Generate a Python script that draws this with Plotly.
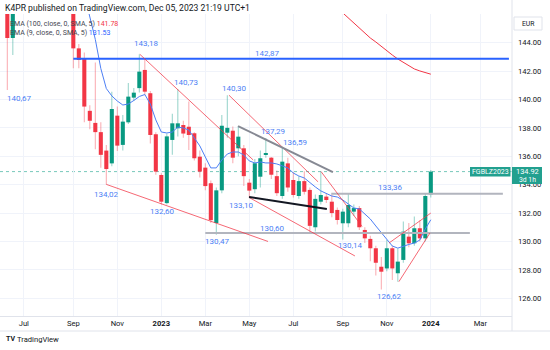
import plotly.graph_objects as go

# ---------------- data (weekly bars, FGBLZ2023) ----------------
opens = [146.6, 144.33, 146.4, 148.2, 149.7, 150.4, 149.6, 148.3, 147.4, 148.5, 148.0, 147.1,
         146.4, 143.6, 142.9, 139.2, 138.35, 137.7, 136.4, 135.5, 138.86, 136.8, 138.39, 140.13,
         140.8, 142.08, 140.44, 137.55, 134.68, 132.7, 137.15, 137.97, 138.2, 138.08, 137.62, 135.97,
         135.2, 134.1, 131.3, 133.6, 137.66, 137.8, 136.56, 136.56, 134.14, 133.68, 134.56, 136.09,
         135.9, 134.6, 133.2, 135.5, 134.33, 133.2, 134.25, 133.63, 131.0, 132.8, 133.16, 132.8,
         132.22, 131.28, 131.28, 132.1, 132.35, 130.81, 130.18, 129.52, 128.22, 128.1, 129.52, 127.76,
         128.7, 130.34, 129.87, 130.93, 130.22, 133.32]
highs = [147.0, 146.9, 148.6, 150.1, 151.0, 151.3, 150.2, 149.0, 148.9, 149.4, 148.6, 147.8,
         146.7, 143.9, 143.3, 139.6, 142.6, 138.4, 136.8, 140.55, 139.5, 138.9, 141.16, 140.8,
         143.18, 142.9, 140.6, 137.7, 134.8, 137.6, 139.0, 140.73, 138.5, 139.85, 137.7, 136.4,
         135.5, 134.3, 133.8, 138.9, 140.3, 138.1, 138.13, 136.8, 134.4, 135.8, 136.4, 137.29,
         135.95, 135.0, 136.59, 135.9, 134.9, 134.6, 134.95, 133.8, 133.3, 134.92, 133.4, 133.3,
         132.4, 132.3, 133.42, 132.6, 132.5, 131.0, 130.4, 129.7, 128.9, 130.1, 129.7, 129.5,
         131.4, 131.3, 131.75, 131.5, 133.4, 135.04]
lows = [140.67, 143.13, 146.2, 147.6, 148.9, 149.2, 147.9, 146.9, 146.6, 147.7, 146.7, 146.3,
        142.2, 142.2, 138.4, 137.9, 136.5, 135.2, 134.02, 135.3, 136.37, 136.4, 138.27, 139.9,
        140.5, 140.3, 136.9, 134.7, 132.6, 132.6, 136.1, 137.4, 137.3, 136.44, 135.7, 134.5,
        133.6, 131.3, 130.47, 133.4, 137.3, 135.5, 136.0, 133.9, 133.10, 133.4, 133.8, 135.9,
        134.4, 133.2, 133.0, 133.5, 133.1, 133.0, 133.3, 130.6, 130.7, 132.6, 132.7, 131.7,
        131.2, 130.14, 131.0, 131.8, 130.8, 129.9, 128.6, 127.6, 126.62, 127.9, 127.29, 127.17,
        128.5, 129.6, 129.7, 130.0, 130.0, 133.1]
closes = [144.33, 146.4, 148.2, 149.7, 150.4, 149.6, 148.3, 147.4, 148.5, 148.0, 147.1, 146.6,
          143.6, 142.78, 139.5, 138.5, 137.7, 136.1, 135.1, 139.33, 136.75, 138.44, 140.2, 140.48,
          141.96, 140.55, 137.5, 134.92, 132.8, 137.4, 138.32, 138.32, 137.6, 137.5, 135.86, 134.92,
          133.9, 131.5, 133.6, 138.15, 138.0, 135.9, 137.38, 134.6, 133.58, 135.51, 135.86, 136.21,
          134.7, 133.4, 135.62, 133.8, 133.27, 134.25, 133.5, 131.1, 133.0, 133.27, 132.92, 132.0,
          131.51, 132.1, 132.57, 132.35, 131.0, 130.22, 129.52, 128.5, 127.87, 129.52, 128.1, 128.58,
          130.69, 129.87, 130.93, 130.22, 133.2, 134.92]

ema9 = [None] * 12 + [
    149.5, 148.6, 147.4, 145.81, 144.23, 142.18, 140.77, 140.25, 139.89, 139.61, 139.68, 139.93,
    140.21, 140.35, 139.68, 138.56, 137.71, 137.64, 137.71, 138.06, 137.99, 137.85, 137.29, 136.73,
    135.95, 135.18, 135.18, 135.74, 136.16, 136.30, 136.30, 136.09, 135.67, 135.53, 135.60, 135.53,
    135.53, 135.46, 135.32, 135.18, 134.82, 134.61, 134.47, 134.12, 133.84, 133.56, 133.35, 133.20,
    133.13, 132.92, 132.64, 132.36, 132.29, 131.94, 131.58, 131.09, 130.60, 130.11, 129.68, 129.53,
    129.68, 129.79, 129.89, 130.10, 130.88, 131.53]
ema100 = [None] * 60 + [
    146.45, 146.09, 145.74, 145.39, 145.04, 144.68, 144.33, 144.05, 143.73, 143.42, 143.13, 142.85,
    142.61, 142.36, 142.15, 142.01, 141.87, 141.78]

tick_labels = ["Jul", "Sep", "Nov", "<b>2023</b>", "Mar", "May", "Jul", "Sep", "Nov", "<b>2024</b>", "Mar"]
tick_bars = [3, 12, 20, 28, 36, 44, 52, 61, 69, 77, 86]
price_ticks = [126, 128, 130, 132, 134, 136, 138, 140, 142, 144]

last_price = 134.92
ema100_last = 141.78
ema9_last = 131.53

# horizontal levels: (price, first bar, last bar, colour)
levels = [(142.87, 12, 91.2, "#2962ff"), (133.36, 58.9, 90.1, "#b2b5be"), (130.60, 36, 84.1, "#b2b5be")]
# trend lines: (bar0, price0, bar1, price1)
red_lines = [(24.1, 143.18, 44.7, 135.74), (40.3, 140.30, 56.5, 134.2), (18.0, 134.02, 47.4, 130.0),
             (43.95, 133.10, 63.2, 128.98), (57.05, 134.92, 64.5, 131.06),
             (69.4, 129.89, 77.0, 132.0), (71.2, 127.17, 76.85, 130.6)]
gray_line = (41.95, 138.13, 59.2, 134.89)
black_line = (43.95, 133.13, 58.1, 132.28)

# price labels: (text, bar, price, xshift, yshift)
price_labels = [("140,67", 0, 140.67, 12, -9), ("143,18", 24, 143.18, 7, 11), ("134,02", 18, 134.02, 0, -10),
                ("140,73", 31, 140.73, 8, 7), ("132,60", 28, 132.60, 1, -7), ("140,30", 40, 140.30, 7, 7),
                ("137,29", 47, 137.29, 7, 6), ("136,59", 50, 136.59, 13, 5), ("133,10", 44, 133.10, -8, -8),
                ("130,47", 38, 130.47, 1, -7), ("130,60", 48.3, 130.60, 0, 4), ("142,87", 47.3, 142.87, 0, 5.5),
                ("133,36", 69.6, 133.36, 0, 6.5), ("130,14", 61, 130.14, 8, -6), ("126,62", 68, 126.62, 8, -7)]

# ---------------- figure ----------------
UP, DN = "#089981", "#f23645"
UPW, DNW = "rgba(8,153,129,0.40)", "rgba(242,54,69,0.40)"
FONT = "Roboto"
idx = list(range(len(closes)))
rising = [c >= o for o, c in zip(opens, closes)]

fig = go.Figure()
# wicks
fig.add_trace(go.Bar(
    x=idx, base=lows, y=[h - l for h, l in zip(highs, lows)], width=0.2,
    marker=dict(color=[UPW if r else DNW for r in rising], line=dict(width=0)),
    hoverinfo="skip", showlegend=False))
# bodies
body_lo = [min(o, c) for o, c in zip(opens, closes)]
body_h = [max(abs(c - o), 0.07) for o, c in zip(opens, closes)]
fig.add_trace(go.Bar(
    x=idx, base=body_lo, y=body_h, width=0.74,
    marker=dict(color=[UP if r else DN for r in rising], line=dict(width=0)),
    hoverinfo="skip", showlegend=False))
fig.add_trace(go.Scatter(x=idx, y=ema9, mode="lines", line=dict(color="#4d7ff5", width=1),
                         hoverinfo="skip", showlegend=False))
fig.add_trace(go.Scatter(x=idx, y=ema100, mode="lines", line=dict(color="#f23645", width=1),
                         hoverinfo="skip", showlegend=False))

shapes = []
shapes.append(dict(type="line", xref="paper", yref="y", x0=0, x1=1, y0=last_price, y1=last_price,
                   line=dict(color="rgba(8,153,129,0.55)", width=1, dash="dot"), layer="below"))
for p, b0, b1, col in levels:
    shapes.append(dict(type="line", xref="x", yref="y", x0=b0, x1=b1, y0=p, y1=p,
                       line=dict(color=col, width=2)))
for b0, p0, b1, p1 in red_lines:
    shapes.append(dict(type="line", xref="x", yref="y", x0=b0, x1=b1, y0=p0, y1=p1,
                       line=dict(color="rgba(242,54,69,0.75)", width=1)))
shapes.append(dict(type="line", xref="x", yref="y", x0=gray_line[0], y0=gray_line[1], x1=gray_line[2],
                   y1=gray_line[3], line=dict(color="#868993", width=2)))
shapes.append(dict(type="line", xref="x", yref="y", x0=black_line[0], y0=black_line[1], x1=black_line[2],
                   y1=black_line[3], line=dict(color="#131722", width=2)))

W_PLOT, TOP, BOTTOM = 512, 14, 316
def px(x):
    return x / W_PLOT
def py(y):
    return (BOTTOM - y) / (BOTTOM - TOP)

shapes.append(dict(type="line", xref="paper", yref="paper", x0=0, x1=px(550), y0=py(331), y1=py(331),
                   line=dict(color="#e0e3eb", width=1)))
shapes.append(dict(type="line", xref="paper", yref="paper", x0=1, x1=1, y0=py(331), y1=py(0),
                   line=dict(color="#e0e3eb", width=1)))
shapes.append(dict(type="rect", xref="paper", yref="paper", x0=px(514), x1=px(542), y0=py(30), y1=py(17),
                   line=dict(color="#e0e3eb", width=1), fillcolor="white"))
shapes.append(dict(type="rect", xref="paper", yref="paper", x0=px(470), x1=px(510.5), y0=py(176.5), y1=py(167),
                   line=dict(width=0), fillcolor="#22a08f"))
shapes.append(dict(type="rect", xref="paper", yref="paper", x0=px(512), x1=px(542), y0=py(184), y1=py(167),
                   line=dict(width=0), fillcolor="#22a08f"))

ann = []
for t, b, p, xs, ys in price_labels:
    ann.append(dict(x=b, y=p, xref="x", yref="y", text=t, showarrow=False, xshift=xs, yshift=ys,
                    font=dict(family=FONT, size=8, color="#4d7ff5")))

def txt(x, y, s, size=7.8, color="#131722", anchor="left"):
    ann.append(dict(x=px(x), y=py(y), xref="paper", yref="paper", text=s, showarrow=False,
                    xanchor=anchor, yanchor="middle", font=dict(family=FONT, size=size, color=color)))

txt(3, 8, "K4PR published on TradingView.com, Dec 05, 2023 21:19 UTC+1", 8.6)
txt(8, 24, "EMA (100, close, 0, SMA, 5) <span style='color:#f23645'>%.2f</span>" % ema100_last, 7.0, "#434651")
txt(8, 33, "EMA (9, close, 0, SMA, 5) <span style='color:#2962ff'>%.2f</span>" % ema9_last, 7.0, "#434651")
txt(528, 23.5, "EUR", 6.8, "#131722", "center")
txt(490.5, 172, "FGBLZ2023", 7, "white", "center")
txt(527, 171.5, f"{last_price:.2f}", 7.4, "white", "center")
txt(527, 179.5, "3d 1h", 6.8, "white", "center")
txt(4, 339, "<b>TV</b>", 7, "#131722")
txt(15, 339, "TradingView", 7.6, "#131722")

fig.update_layout(
    width=550, height=350, margin=dict(l=0, r=38, t=TOP, b=350 - BOTTOM),
    paper_bgcolor="white", plot_bgcolor="white", showlegend=False, barmode="overlay",
    font=dict(family=FONT, size=8, color="#131722"),
    shapes=shapes, annotations=ann,
    xaxis=dict(range=[-1.33, 91.76], tickvals=tick_bars, ticktext=tick_labels, showgrid=True,
               gridcolor="#f0f3fa", gridwidth=1, zeroline=False, showline=True, linecolor="#e0e3eb",
               ticks="", tickfont=dict(family=FONT, size=7.6, color="#131722"), fixedrange=True),
    yaxis=dict(range=[124.75, 146.02], side="right", tickvals=price_ticks,
               ticktext=[f"{v:.2f}" for v in price_ticks], showgrid=True, gridcolor="#f0f3fa",
               zeroline=False, showline=False, ticks="", ticklabelstandoff=5,
               tickfont=dict(family=FONT, size=7.6, color="#131722"), fixedrange=True),
)

fig.write_html("out.html")
